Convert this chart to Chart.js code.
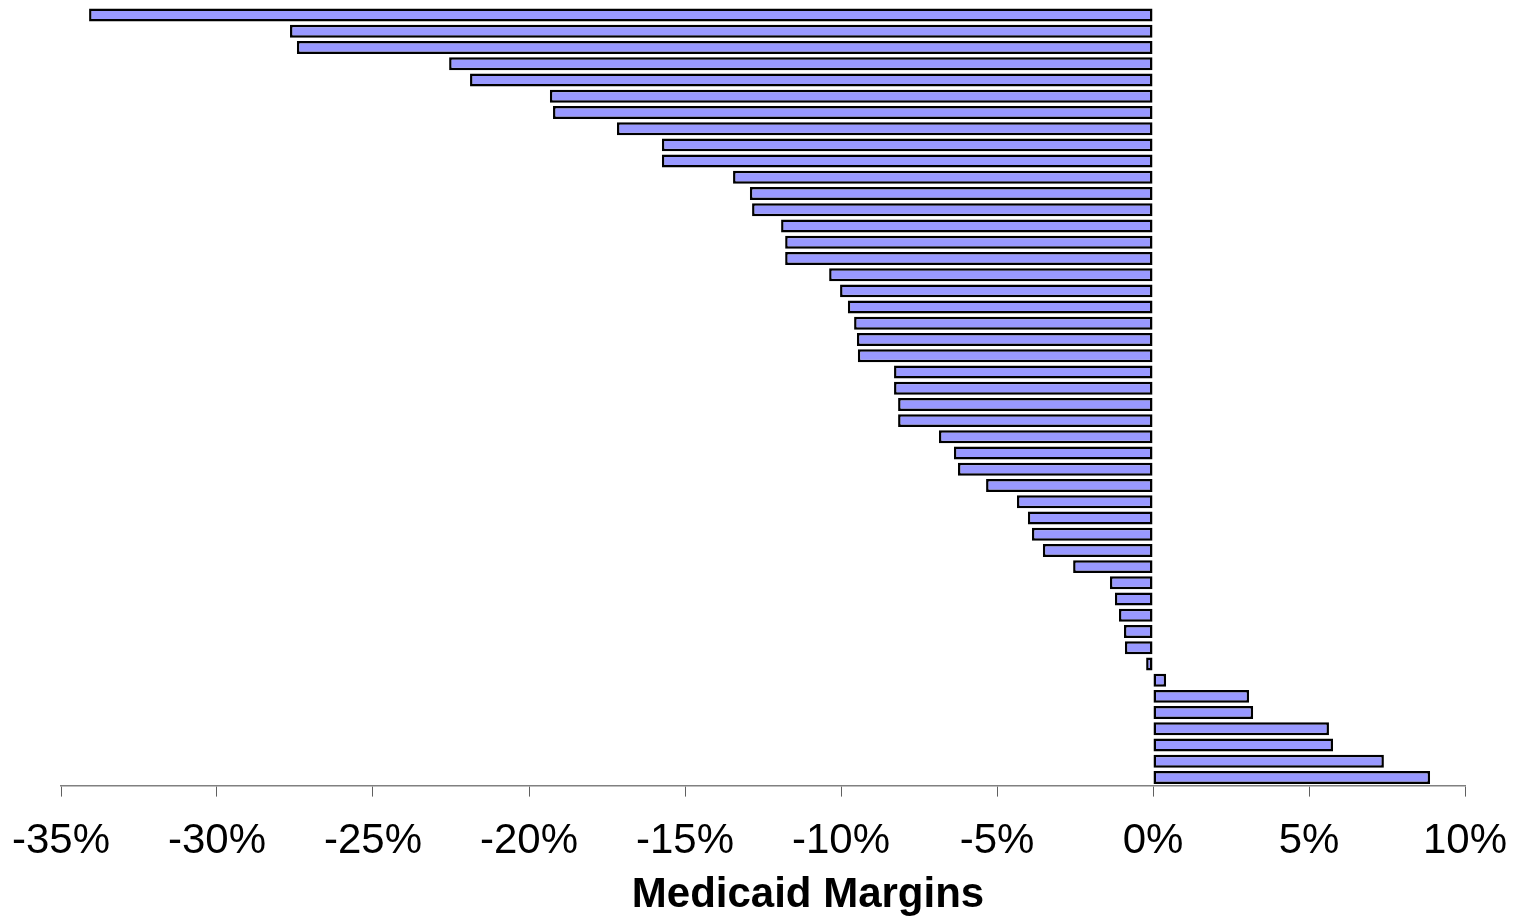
<!DOCTYPE html>
<html>
<head>
<meta charset="utf-8">
<script src="https://cdn.jsdelivr.net/npm/chart.js@4.4.1/dist/chart.umd.min.js"></script>
<style>
  html, body { margin: 0; padding: 0; background: #fff; }
  #wrap { width: 1516px; height: 919px; position: relative; }
</style>
</head>
<body>
<div id="wrap"><canvas id="marginChart"></canvas></div>
<script>
// Medicaid margins per hospital, sorted (fractions)
const margins = [
  -0.341, -0.2766, -0.2744, -0.2256, -0.2189, -0.1933, -0.1923, -0.1718,
  -0.1574, -0.1574, -0.1346, -0.1292, -0.1285, -0.1192, -0.1179, -0.1179,
  -0.1038, -0.1003, -0.0978, -0.0958, -0.0949, -0.0946, -0.083, -0.083,
  -0.0817, -0.0817, -0.0686, -0.0638, -0.0625, -0.0535, -0.0436, -0.0401,
  -0.0388, -0.0353, -0.0256, -0.0138, -0.0122, -0.0109, -0.0093, -0.009,
  -0.0022, 0.0042, 0.0308, 0.0321, 0.0564, 0.0577, 0.074, 0.0888
];
const categories = margins.map((v, i) => String(i + 1));
const xTicks = [-0.35, -0.30, -0.25, -0.20, -0.15, -0.10, -0.05, 0, 0.05, 0.10];
const axisTitle = "Medicaid Margins";

// titre axe x, un peu décalé à droite comme dans l'original
const bottomTitle = {
    id: "bottomTitle",
    afterDraw(chart) {
        const ctx = chart.ctx;
        const area = chart.chartArea;
        ctx.save();
        ctx.font = "bold 42px 'Liberation Sans', Arial, sans-serif";
        ctx.fillStyle = "#000";
        ctx.textAlign = "center";
        ctx.textBaseline = "middle";
        ctx.fillText(axisTitle, (area.left + area.right) / 2 + 45, 895);
        ctx.restore();
    }
};

new Chart(document.getElementById("marginChart"), {
    type: "bar",
    data: {
        labels: categories,
        datasets: [{
            data: margins,
            backgroundColor: "#9999FF",
            borderColor: "#000000",
            borderWidth: 2.5,
            borderSkipped: false,
            barPercentage: 0.8,
            categoryPercentage: 1.0
        }]
    },
    options: {
        indexAxis: "y",
        responsive: true,
        maintainAspectRatio: false,
        animation: false,
        layout: { padding: { top: 7, left: 61, right: 51, bottom: 32 } },
        plugins: { legend: { display: false }, tooltip: { enabled: false } },
        scales: {
            x: {
                min: -0.35,
                max: 0.10,
                afterBuildTicks: (scale) => { scale.ticks = xTicks.map(v => ({ value: v })); },
                afterFit: (scale) => { scale.paddingLeft = 0; scale.paddingRight = 0; },
                ticks: {
                    color: "#000",
                    padding: 20,
                    maxRotation: 0,
                    font: { family: "'Liberation Sans', Arial, sans-serif", size: 42 },
                    callback: (v) => Math.round(v * 100) + "%"
                },
                grid: { drawOnChartArea: false, drawTicks: true, tickLength: 11, color: "#606060", lineWidth: 1 },
                border: { display: true, color: "#808080", width: 1.5 }
            },
            y: {
                display: false
            }
        }
    },
    plugins: [bottomTitle]
});
</script>
</body>
</html>
